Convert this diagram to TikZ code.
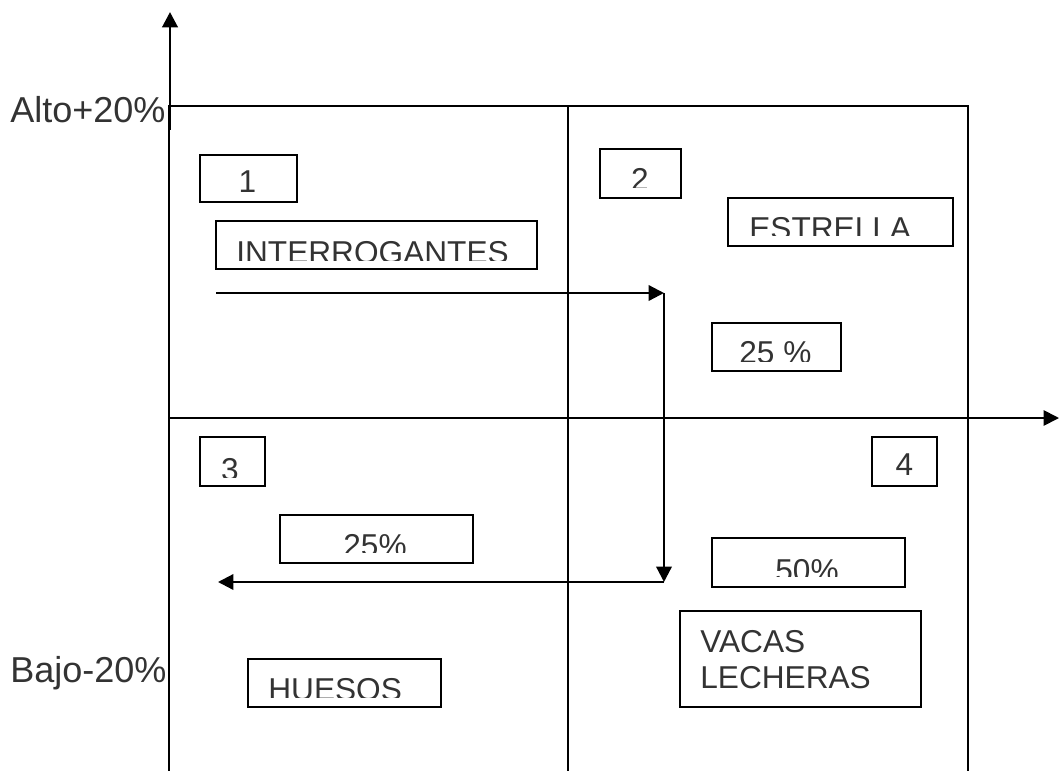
\documentclass[tikz,border=0pt]{standalone}
\usepackage{fontspec}
\setmainfont{Liberation Sans}
\usetikzlibrary{arrows.meta}

\begin{document}
\begin{tikzpicture}[x=0.02cm,y=-0.02cm,>={Triangle[length=3.1mm,width=3.1mm]},
  grid/.style={line width=1pt},
  flow/.style={->,line width=1.3pt},
  cell/.style={draw,line width=1.1pt,inner sep=0pt},
  lbl/.style={inner sep=0pt,text=black!80,font=\fontsize{18}{20.4}\selectfont},
  axlbl/.style={inner sep=0pt,text=black!80,font=\fontsize{20.5}{24}\selectfont,anchor=base west}]
\useasboundingbox (0,0) rectangle (1059,771);

% grid and axes
\coordinate (tl) at (169,106);  \coordinate (tm) at (568,106);  \coordinate (tr) at (968,106);
\coordinate (bl) at (169,771);  \coordinate (bm) at (568,771);  \coordinate (br) at (968,771);
\coordinate (ml) at (169,418);  \coordinate (xend) at (1059,418);
\coordinate (ybase) at (170,130); \coordinate (ytop) at (170,12);
\draw[grid] (bl) -- (tl) -- (tr) -- (br);
\draw[grid] (tm) -- (bm);
\draw[grid,->] (ml) -- (xend);
\draw[line width=1.7pt,->] (ybase) -- (ytop);
\node[axlbl] (alto) at (10,122) {Alto+20\%};
\node[axlbl] (bajo) at (10,682) {Bajo-20\%};

% boxes
\node[cell,minimum width=1.94cm,minimum height=0.94cm] (n1) at (248.5,178.5) {};
\node[cell,minimum width=6.42cm,minimum height=0.96cm] (interrog) at (376.5,245) {};
\node[cell,minimum width=1.62cm,minimum height=0.98cm] (n2) at (640.5,173.5) {};
\node[cell,minimum width=4.50cm,minimum height=0.96cm] (estrella) at (840.5,222) {};
\node[cell,minimum width=2.58cm,minimum height=0.96cm] (pcta) at (776.5,347) {};
\node[cell,minimum width=1.30cm,minimum height=0.98cm] (n3) at (232.5,461.5) {};
\node[cell,minimum width=3.86cm,minimum height=0.96cm] (pctb) at (376.5,539) {};
\node[cell,minimum width=1.30cm,minimum height=0.98cm] (n4) at (904.5,461.5) {};
\node[cell,minimum width=3.86cm,minimum height=0.98cm] (pctc) at (808.5,562.5) {};
\node[cell,minimum width=4.82cm,minimum height=1.92cm] (vacas) at (800.5,659) {};
\node[cell,minimum width=3.86cm,minimum height=0.96cm] (huesos) at (344.5,683) {};

% texts, cut off at the bottom like the boxes they sit in
\node[lbl,anchor=base] (t1) at (247.5,192) {1};
\begin{scope}
  \clip (interrog.north west) rectangle (interrog.east |- 0,260);
  \node[lbl,anchor=base west] (tinterrog) at (236,263) {INTERROGANTES};
\end{scope}
\begin{scope}
  \clip (n2.north west) rectangle (n2.east |- 0,187);
  \node[lbl,anchor=base] (t2) at (640,190) {2};
\end{scope}
\begin{scope}
  \clip (estrella.north west) rectangle (estrella.east |- 0,235);
  \node[lbl,anchor=base west] (testrella) at (749,239) {ESTRELLA};
\end{scope}
\begin{scope}
  \clip (pcta.north west) rectangle (pcta.east |- 0,361);
  \node[lbl,anchor=base west] (tpcta) at (739,363) {25 \%};
\end{scope}
\begin{scope}
  \clip (n3.north west) rectangle (n3.east |- 0,477);
  \node[lbl,anchor=base] (t3) at (230,480) {3};
\end{scope}
\begin{scope}
  \clip (pctb.north west) rectangle (pctb.east |- 0,552);
  \node[lbl,anchor=base west] (tpctb) at (343,556) {25\%};
\end{scope}
\node[lbl,anchor=base] (t4) at (904.5,475) {4};
\begin{scope}
  \clip (pctc.north west) rectangle (pctc.east |- 0,576);
  \node[lbl,anchor=base west] (tpctc) at (775,581) {50\%};
\end{scope}
\begin{scope}
  \clip (huesos.north west) rectangle (huesos.east |- 0,697);
  \node[lbl,anchor=base west] (thuesos) at (268,700) {HUESOS};
\end{scope}
\node[lbl,anchor=base west,align=left] (tvacas) at (700,688) {VACAS\\LECHERAS};

% flow of the portfolio
\coordinate (f0) at (216,293); \coordinate (f1) at (664,293);
\coordinate (f2) at (664,582); \coordinate (f3) at (218,582);
\draw[flow] (f0) -- (f1);
\draw[flow] (f1) -- (f2);
\draw[flow] (f2) -- (f3);
\end{tikzpicture}
\end{document}
